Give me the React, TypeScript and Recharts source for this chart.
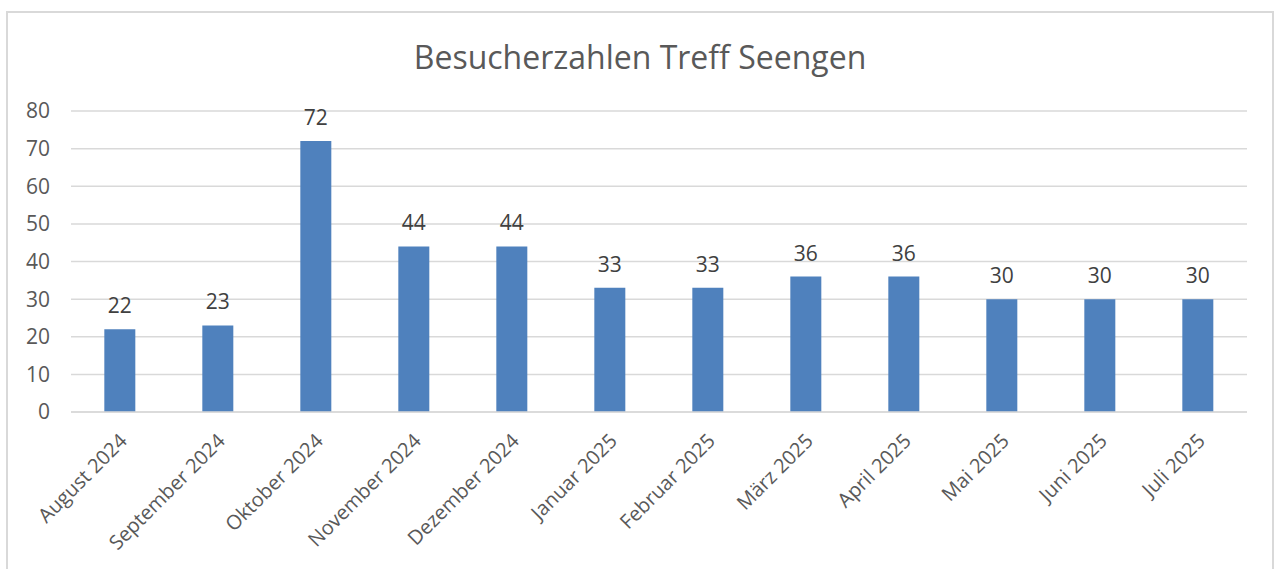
import { BarChart, Bar, XAxis, YAxis, CartesianGrid, LabelList } from "recharts";

const months = [
  "August 2024",
  "September 2024",
  "Oktober 2024",
  "November 2024",
  "Dezember 2024",
  "Januar 2025",
  "Februar 2025",
  "März 2025",
  "April 2025",
  "Mai 2025",
  "Juni 2025",
  "Juli 2025",
];

const visitors = [22, 23, 72, 44, 44, 33, 33, 36, 36, 30, 30, 30];

const yTicks = [0, 10, 20, 30, 40, 50, 60, 70, 80];

const data = months.map((month, i) => ({ month, visitors: visitors[i] }));

const FONT = "'Open Sans', 'Noto Sans', sans-serif";
const TEXT = "#595959";

function MonthTick({ x, y, payload }: any) {
  return (
    <g transform={`translate(${x + 4},${y + 18})`}>
      <text
        transform="rotate(-45)"
        textAnchor="end"
        dy={6}
        fill={TEXT}
        fontSize={20}
        fontFamily={FONT}
      >
        {payload.value}
      </text>
    </g>
  );
}

export default function App() {
  return (
    <div
      style={{
        position: "absolute",
        left: 6,
        top: 11,
        width: 1268,
        height: 570,
        border: "2px solid #d9d9d9",
        boxSizing: "border-box",
        background: "#fff",
        overflow: "hidden",
      }}
    >
      <div
        style={{
          position: "absolute",
          left: 0,
          width: "100%",
          top: 22,
          textAlign: "center",
          fontFamily: FONT,
          fontSize: 32,
          color: TEXT,
        }}
      >
        Besucherzahlen Treff Seengen
      </div>
      <BarChart
        width={1268}
        height={570}
        data={data}
        margin={{ top: 100, right: 27, bottom: 49, left: 0 }}
        barCategoryGap="34%"
        style={{ position: "absolute", left: -2, top: -2 }}
      >
        <CartesianGrid vertical={false} stroke="#d9d9d9" strokeWidth={1.5} />
        <XAxis
          dataKey="month"
          interval={0}
          height={120}
          tickLine={false}
          axisLine={{ stroke: "#d9d9d9", strokeWidth: 1.5 }}
          tick={<MonthTick />}
        />
        <YAxis
          width={65}
          domain={[0, 80]}
          ticks={yTicks}
          axisLine={false}
          tickLine={false}
          tickSize={0}
          tickMargin={21}
          tick={{ fill: TEXT, fontSize: 21, fontFamily: FONT }}
        />
        <Bar dataKey="visitors" fill="#4f81bd" isAnimationActive={false}>
          <LabelList
            dataKey="visitors"
            position="top"
            offset={16}
            fill="#404040"
            fontSize={21}
            fontFamily={FONT}
          />
        </Bar>
      </BarChart>
    </div>
  );
}
